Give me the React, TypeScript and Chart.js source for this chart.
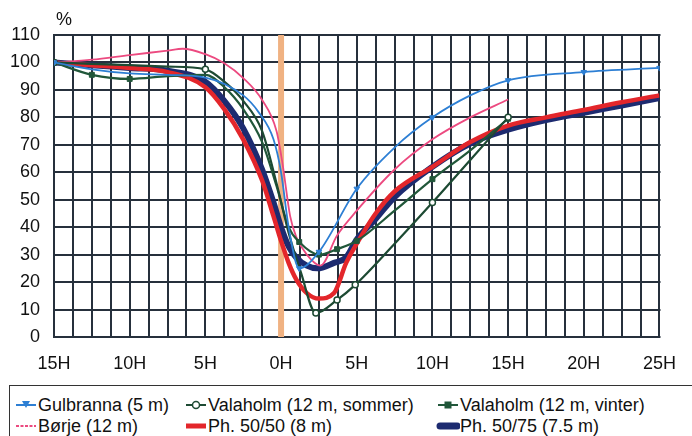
import React, { useEffect, useRef } from "react";
import { Chart, registerables } from "chart.js";

Chart.register(...registerables);

// ---- Axis definitions ----
const xMin = -15;
const xMax = 25;
const xGridStep = 1.25;
const xLabelEvery = 5;
const yMin = 0;
const yMax = 110;
const yStep = 10;

// ---- Series data (hours relative to 0H, %) ----
const gulbrannaX = [-15, -12.5, -10, -7.5, -5, -2.5, -1.5, -0.5, 0, 0.5, 1.2, 2.5, 5, 7.5, 10, 12.5, 15, 20, 25];
const gulbrannaY = [100, 97.5, 96, 95.5, 94.5, 88, 82, 72, 60, 40, 25, 31, 54, 69, 80, 88, 93.5, 96.5, 98];
const gulbrannaMarks = [-15, 1.2, 2.5, 5, 10, 15, 20, 25];

const sommerX = [-15, -10, -7.5, -5, -3.75, -2.5, -1.25, -0.3, 0.5, 1.3, 2.3, 3.7, 4.9, 7.5, 10, 12.5, 15];
const sommerY = [100, 99, 98.5, 97.5, 93, 86, 75, 56, 38, 23.7, 8.7, 13.5, 19, 34, 49, 64.5, 80];
const sommerMarks = [-15, -5, 2.3, 3.7, 4.9, 10, 15];

const vinterX = [-15, -12.5, -10, -7.5, -5, -3.75, -2.5, -1.25, -0.3, 0.5, 1.2, 2.5, 3.7, 5, 7.5, 10, 12.5, 15];
const vinterY = [100, 95.5, 94, 95, 95.5, 91, 83, 71, 55, 40, 34.6, 30, 32, 35, 46, 57.5, 68, 79.5];
const vinterMarks = [-15, -12.5, -10, 1.2, 2.5, 3.7, 5, 10, 15];

const borjeX = [-15, -12.5, -10, -7.5, -6.5, -5, -3.75, -2.5, -1.25, -0.3, 0.1, 0.6, 1.0, 1.7, 2.6, 3.7, 5, 7.5, 10, 12.5, 15];
const borjeY = [100, 101, 102.7, 104.3, 105, 103, 99.7, 94.3, 86.3, 75, 63, 44, 36.5, 30, 26, 37, 46, 61, 72, 80, 86.5];

const ph5050X = [-15, -12.5, -10, -7.5, -5, -3.75, -2.5, -1.25, -0.5, 0, 0.5, 1, 1.7, 2.5, 3.5, 4.3, 5, 6.25, 7.5, 10, 12.5, 15, 17.5, 20, 22.5, 25];
const ph5050Y = [100, 99, 98, 96.5, 91, 83, 72, 57, 44, 35, 27, 21, 16, 14, 16, 27, 34, 45, 53, 62, 71, 77, 80, 82.7, 85.5, 88];

const ph5075X = [-15, -12.5, -10, -7.5, -5, -3.75, -2.5, -1.25, -0.5, 0, 0.5, 1, 1.7, 2.4, 3.5, 4.3, 5, 6.25, 7.5, 10, 12.5, 15, 17.5, 20, 22.5, 25];
const ph5075Y = [100, 99, 98, 97, 93, 86, 76, 61, 49, 40, 33, 29, 26, 25, 27, 29, 35.5, 43, 51, 62, 70.5, 75.5, 79, 81.7, 84.3, 87];

const seriesNames = [
  "Gulbranna (5 m)",
  "Valaholm (12 m, sommer)",
  "Valaholm (12 m, vinter)",
  "Børje (12 m)",
  "Ph. 50/50 (8 m)",
  "Ph. 50/75 (7.5 m)",
];

const FONT = "'Liberation Sans', Arial, sans-serif";
const BLUE = "#2d7fd4";
const DGREEN = "#1d4a33";
const VGREEN = "#21573a";
const PINK = "#ec4a80";
const RED = "#e3262b";
const NAVY = "#1d2b70";
const GRID = "#26303c";
const ORANGE = "#f0b282";

const zip = (xs: number[], ys: number[]) => xs.map((x, i) => ({ x, y: ys[i] }));
const markRadius = (marks: number[], r: number) => (ctx: any) =>
  ctx.raw && marks.includes(ctx.raw.x) ? r : 0;

const overlayPlugin = {
  id: "overlay",
  afterDraw(chart: any) {
    const { ctx, chartArea, scales } = chart;
    const { left, right, top, bottom } = chartArea;
    ctx.save();
    // paint beneath the already-drawn curves
    ctx.globalCompositeOperation = "destination-over";
    const x0 = scales.x.getPixelForValue(0);
    ctx.fillStyle = ORANGE;
    ctx.fillRect(x0 - 3, top, 6, bottom - top);
    ctx.fillStyle = GRID;
    for (let v = xMin; v <= xMax + 1e-9; v += xGridStep) {
      const px = Math.round(scales.x.getPixelForValue(v));
      ctx.fillRect(px - 1, top - 1, 2, bottom - top + 2);
    }
    for (let v = yMin; v <= yMax + 1e-9; v += yStep) {
      const py = Math.round(scales.y.getPixelForValue(v));
      ctx.fillRect(left - 1, py - 1, right - left + 2, 2);
    }
    ctx.globalCompositeOperation = "source-over";
    ctx.fillStyle = "#111";
    ctx.font = `18px ${FONT}`;
    ctx.textAlign = "center";
    ctx.textBaseline = "middle";
    ctx.fillText("%", 64, 20);
    ctx.restore();
  },
};

function LegendMarker({ kind }: { kind: number }) {
  const w = 24;
  const h = 14;
  const mid = h / 2;
  if (kind === 0)
    return (
      <svg width={w} height={h}>
        <line x1={2} y1={mid} x2={22} y2={mid} stroke={BLUE} strokeWidth={2} />
        <polygon points={`8,${mid - 4} 16,${mid - 4} 12,${mid + 3}`} fill={BLUE} />
      </svg>
    );
  if (kind === 1)
    return (
      <svg width={w} height={h}>
        <line x1={2} y1={mid} x2={22} y2={mid} stroke={DGREEN} strokeWidth={2} />
        <circle cx={12} cy={mid} r={3.5} fill="#fff" stroke={DGREEN} strokeWidth={1.5} />
      </svg>
    );
  if (kind === 2)
    return (
      <svg width={w} height={h}>
        <line x1={2} y1={mid} x2={22} y2={mid} stroke={VGREEN} strokeWidth={2} />
        <rect x={8.5} y={mid - 3.5} width={7} height={7} fill={VGREEN} />
      </svg>
    );
  if (kind === 3)
    return (
      <svg width={w} height={h}>
        <line x1={2} y1={mid} x2={22} y2={mid} stroke={PINK} strokeWidth={2} strokeDasharray="3 1.5" />
      </svg>
    );
  if (kind === 4)
    return (
      <svg width={w} height={h}>
        <line x1={2} y1={mid} x2={22} y2={mid} stroke={RED} strokeWidth={5} />
      </svg>
    );
  return (
    <svg width={w} height={h}>
      <line x1={4} y1={mid} x2={21} y2={mid} stroke={NAVY} strokeWidth={7} strokeLinecap="round" />
    </svg>
  );
}

export default function App() {
  const canvasRef = useRef<HTMLCanvasElement | null>(null);

  useEffect(() => {
    if (!canvasRef.current) return;
    const common = { showLine: true, cubicInterpolationMode: "monotone" as const, fill: false };
    const chart = new Chart(canvasRef.current, {
      type: "scatter",
      data: {
        datasets: [
          {
            ...common,
            label: seriesNames[0],
            data: zip(gulbrannaX, gulbrannaY),
            borderColor: BLUE,
            backgroundColor: BLUE,
            borderWidth: 1.8,
            pointStyle: "triangle",
            rotation: 180,
            pointRadius: markRadius(gulbrannaMarks, 3.2),
            pointBorderWidth: 1,
          },
          {
            ...common,
            label: seriesNames[1],
            data: zip(sommerX, sommerY),
            borderColor: DGREEN,
            backgroundColor: "#ffffff",
            pointBorderColor: DGREEN,
            borderWidth: 2.2,
            pointStyle: "circle",
            pointRadius: markRadius(sommerMarks, 3),
            pointBorderWidth: 1.5,
          },
          {
            ...common,
            label: seriesNames[2],
            data: zip(vinterX, vinterY),
            borderColor: VGREEN,
            backgroundColor: VGREEN,
            borderWidth: 2.2,
            pointStyle: "rect",
            pointRadius: markRadius(vinterMarks, 3.5),
            pointBorderWidth: 1,
          },
          {
            ...common,
            label: seriesNames[3],
            data: zip(borjeX, borjeY),
            borderColor: PINK,
            backgroundColor: PINK,
            borderWidth: 1.8,
            pointRadius: 0,
          },
          {
            ...common,
            label: seriesNames[4],
            data: zip(ph5050X, ph5050Y),
            borderColor: RED,
            backgroundColor: RED,
            borderWidth: 4.5,
            pointRadius: 0,
          },
          {
            ...common,
            label: seriesNames[5],
            data: zip(ph5075X, ph5075Y),
            borderColor: NAVY,
            backgroundColor: NAVY,
            borderWidth: 6,
            pointRadius: 0,
          },
        ],
      },
      options: {
        animation: false,
        responsive: false,
        layout: { padding: { top: 35, right: 18, left: 0, bottom: 0 } },
        plugins: {
          legend: { display: false },
          tooltip: { enabled: false },
        },
        scales: {
          x: {
            type: "linear",
            min: xMin,
            max: xMax,
            afterBuildTicks: (scale: any) => {
              const ticks = [];
              for (let v = xMin; v <= xMax + 1e-9; v += xLabelEvery) ticks.push({ value: v });
              scale.ticks = ticks;
            },
            afterFit: (scale: any) => {
              scale.height = 46;
            },
            ticks: {
              autoSkip: false,
              maxRotation: 0,
              minRotation: 0,
              padding: 16,
              color: "#111",
              font: { family: FONT, size: 18 },
              callback: (v: any) => `${Math.abs(v)}H`,
            },
            grid: { display: false, drawTicks: false },
            border: { display: false },
          },
          y: {
            type: "linear",
            min: yMin,
            max: yMax,
            afterFit: (scale: any) => {
              scale.width = 54;
            },
            ticks: {
              stepSize: yStep,
              padding: 14,
              color: "#111",
              font: { family: FONT, size: 18 },
            },
            grid: { display: false, drawTicks: false },
            border: { display: false },
          },
        },
      },
      plugins: [overlayPlugin],
    });
    return () => chart.destroy();
  }, []);

  const cols = [4, 174, 426];
  const rows = [19, 40];
  const order = [
    [0, 0, 0],
    [1, 0, 1],
    [2, 0, 2],
    [3, 1, 0],
    [4, 1, 1],
    [5, 1, 2],
  ];

  return (
    <div style={{ position: "absolute", left: 0, top: 0, width: 692, height: 436, overflow: "hidden", background: "#fff" }}>
      <canvas ref={canvasRef} width={692} height={383} style={{ position: "absolute", left: 0, top: 0 }} />
      <div
        style={{
          position: "absolute",
          left: 9,
          top: 385,
          width: 720,
          height: 70,
          borderTop: "1.5px solid #333",
          borderLeft: "1.5px solid #333",
          boxSizing: "border-box",
        }}
      >
        {order.map(([k, r, c]) => (
          <div
            key={k}
            style={{
              position: "absolute",
              left: cols[c],
              top: rows[r] - 11,
              height: 22,
              display: "flex",
              alignItems: "center",
              whiteSpace: "nowrap",
              fontFamily: FONT,
              fontSize: 18,
              color: "#111",
            }}
          >
            <LegendMarker kind={k} />
            <span>{seriesNames[k]}</span>
          </div>
        ))}
      </div>
    </div>
  );
}
